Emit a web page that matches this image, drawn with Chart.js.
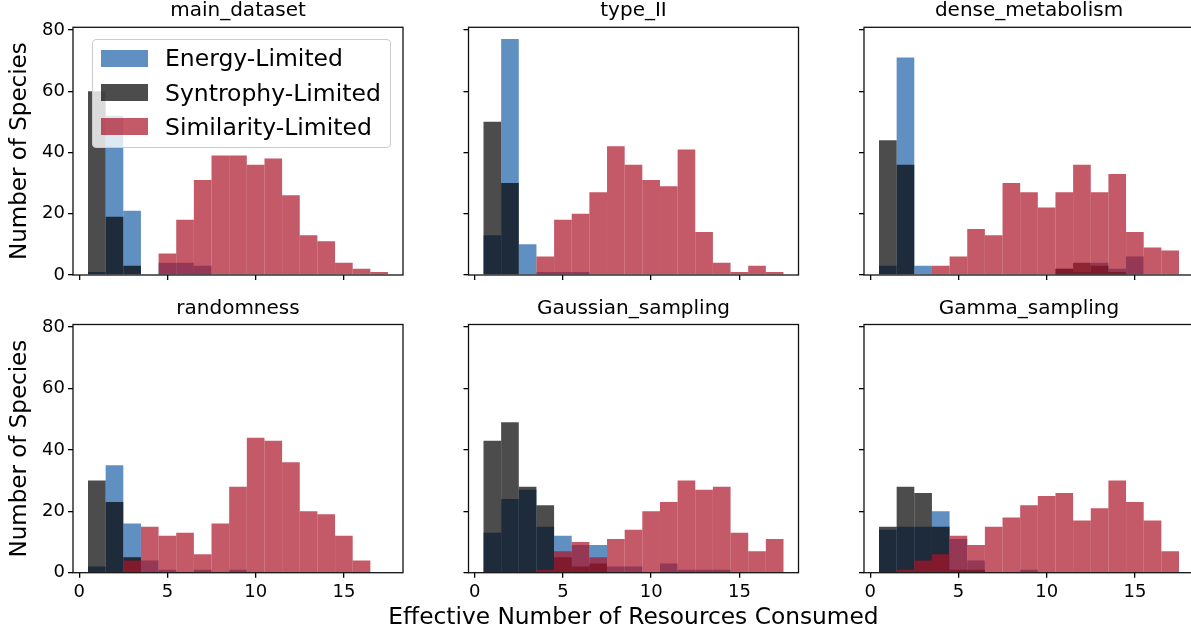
<!DOCTYPE html>
<html>
<head>
<meta charset="utf-8">
<title>Effective Number of Resources Consumed</title>
<script src="https://cdn.jsdelivr.net/npm/chart.js@4.4.1/dist/chart.umd.min.js"></script>
<style>
  html, body { margin: 0; padding: 0; background: #fff; }
  body { width: 1191px; height: 634px; position: relative; overflow: hidden; font-family: 'DejaVu Sans', sans-serif; }
  canvas { position: absolute; }
  #legend { position: absolute; left: 92px; top: 39px; width: 297px; height: 107px; border: 1px solid #cccccc; border-radius: 4px; background: rgba(255, 255, 255, 0.8); z-index: 2; }
  .item { position: absolute; left: 8px; height: 34px; display: flex; align-items: center; font-size: 23.5px; color: #000; white-space: nowrap; }
  .swatch { width: 47px; height: 17px; margin-right: 17px; }
  #xlabel { position: absolute; left: 333.5px; width: 600px; top: 602px; text-align: center; font-size: 23.3px; line-height: 27.6px; color: #000; white-space: nowrap; }
</style>
</head>
<body>
<canvas id="c0" width="406" height="286" style="left:0px;top:-1px"></canvas>
<canvas id="c1" width="342" height="286" style="left:460px;top:-1px"></canvas>
<canvas id="c2" width="342" height="286" style="left:856px;top:-1px"></canvas>
<canvas id="c3" width="406" height="337" style="left:0px;top:297px"></canvas>
<canvas id="c4" width="342" height="337" style="left:460px;top:297px"></canvas>
<canvas id="c5" width="342" height="337" style="left:856px;top:297px"></canvas>
<div id="legend"></div>
<div id="xlabel">Effective Number of Resources Consumed</div>
<script>
// bins are 1 wide, centred on the integers
const binCenters = [1, 2, 3, 4, 5, 6, 7, 8, 9, 10, 11, 12, 13, 14, 15, 16, 17];
const xTickValues = [0, 5, 10, 15];
const yTickValues = [0, 20, 40, 60, 80];
const seriesNames = ['Energy-Limited', 'Syntrophy-Limited', 'Similarity-Limited'];
const panelTitles = ['main_dataset', 'type_II', 'dense_metabolism', 'randomness', 'Gaussian_sampling', 'Gamma_sampling'];

const energyMain       = [1, 52, 21, 0, 4, 4, 3, 0, 0, 0, 0, 0, 0, 0, 0, 0, 0];
const syntrophyMain    = [60, 19, 3, 0, 0, 0, 0, 0, 0, 0, 0, 0, 0, 0, 0, 0, 0];
const similarityMain   = [0, 0, 0, 0, 7, 18, 31, 39, 39, 36, 38, 26, 13, 11, 4, 2, 1];

const energyTypeII     = [13, 77, 10, 1, 1, 1, 0, 0, 0, 0, 0, 0, 0, 0, 0, 0, 0];
const syntrophyTypeII  = [50, 30, 0, 0, 0, 0, 0, 0, 0, 0, 0, 0, 0, 0, 0, 0, 0];
const similarityTypeII = [0, 0, 0, 6, 18, 20, 27, 42, 36, 31, 29, 41, 14, 4, 1, 3, 1];

const energyDense      = [3, 71, 3, 0, 0, 0, 0, 0, 0, 0, 2, 1, 4, 2, 6, 0, 0];
const syntrophyDense   = [44, 36, 0, 0, 0, 0, 0, 0, 0, 0, 2, 4, 3, 1, 0, 0, 0];
const similarityDense  = [0, 0, 0, 3, 6, 15, 13, 30, 27, 22, 27, 36, 27, 33, 14, 9, 8];

const energyRandom     = [2, 35, 16, 4, 1, 0, 1, 0, 1, 0, 0, 0, 0, 0, 0, 0, 0];
const syntrophyRandom  = [30, 23, 5, 0, 0, 0, 0, 0, 0, 0, 0, 0, 0, 0, 0, 0, 0];
const similarityRandom = [0, 0, 4, 15, 12, 13, 6, 16, 28, 44, 43, 36, 20, 19, 12, 4, 0];

const energyGauss      = [13, 24, 27, 15, 12, 9, 9, 2, 2, 0, 3, 1, 1, 1, 0, 0, 0];
const syntrophyGauss   = [43, 49, 28, 22, 5, 2, 3, 0, 0, 0, 0, 0, 0, 0, 0, 0, 0];
const similarityGauss  = [0, 0, 0, 1, 7, 10, 5, 11, 14, 20, 23, 30, 27, 28, 13, 7, 11];

const energyGamma      = [14, 15, 15, 20, 11, 4, 0, 0, 1, 0, 0, 0, 0, 0, 0, 0, 0];
const syntrophyGamma   = [15, 28, 26, 15, 1, 1, 0, 0, 0, 0, 0, 0, 0, 0, 0, 0, 0];
const similarityGamma  = [0, 1, 4, 6, 12, 9, 15, 18, 22, 25, 26, 17, 21, 30, 23, 17, 7];

const energySets     = [energyMain, energyTypeII, energyDense, energyRandom, energyGauss, energyGamma];
const syntrophySets  = [syntrophyMain, syntrophyTypeII, syntrophyDense, syntrophyRandom, syntrophyGauss, syntrophyGamma];
const similaritySets = [similarityMain, similarityTypeII, similarityDense, similarityRandom, similarityGauss, similarityGamma];

const colors = ['rgba(28, 95, 166, 0.7)', 'rgba(0, 0, 0, 0.7)', 'rgba(171, 19, 39, 0.7)'];

// panel geometry (plot area 330 px wide)
const yAxisW = [73, 8.5, 8];
const titlePadBottom = [4.3, 3.5];
const xAxisH = [10, 61.3];
const plotW = 330;

Chart.defaults.font.family = "'DejaVu Sans', sans-serif";
Chart.defaults.color = '#000';

const framePlugin = {
  id: 'frame',
  afterDatasetsDraw(chart) {
    const a = chart.chartArea;
    const ctx = chart.ctx;
    ctx.save();
    ctx.strokeStyle = '#111';
    ctx.lineWidth = 1.3;
    ctx.strokeRect(a.left, a.top, a.right - a.left, a.bottom - a.top);
    ctx.restore();
  }
};

function toPoints(values) {
  return binCenters.map((x, k) => ({ x: x, y: values[k] }));
}

function barSet(idx, values, order) {
  return {
    label: seriesNames[idx],
    data: toPoints(values),
    backgroundColor: colors[idx],
    borderWidth: 0,
    grouped: false,
    barPercentage: 1,
    categoryPercentage: 1,
    inflateAmount: 0,
    order: order
  };
}

// fixed axis boxes, no extra room for label overflow
function noPad(s) {
  s.paddingLeft = 0; s.paddingRight = 0; s.paddingTop = 0; s.paddingBottom = 0;
}

function makePanel(i) {
  const row = Math.floor(i / 3), col = i % 3;
  const canvas = document.getElementById('c' + i);
  const padRight = canvas.width - yAxisW[col] - plotW;
  const gridOpts = { drawOnChartArea: false, drawTicks: true, tickLength: 5, lineWidth: 1.3, color: '#000', offset: false };

  new Chart(canvas, {
    type: 'bar',
    data: {
      datasets: [
        barSet(0, energySets[i], 3),
        barSet(1, syntrophySets[i], 2),
        barSet(2, similaritySets[i], 1)
      ]
    },
    options: {
      responsive: false,
      animation: false,
      layout: { padding: { left: 0, top: 0, right: padRight, bottom: 0 } },
      plugins: {
        legend: { display: false },
        tooltip: { enabled: false },
        title: {
          display: true,
          text: panelTitles[i],
          fullSize: false,
          font: { size: 20, weight: 'normal', lineHeight: 1.2 },
          color: '#000',
          padding: { top: 0, bottom: titlePadBottom[row] }
        }
      },
      scales: {
        x: {
          type: 'linear',
          min: -0.35,
          max: 18.35,
          bounds: 'data',
          offset: false,
          afterBuildTicks: s => { s.ticks = xTickValues.map(v => ({ value: v })); },
          afterFit: s => { s.height = xAxisH[row]; noPad(s); },
          grid: gridOpts,
          border: { display: false },
          ticks: { display: row === 1, font: { size: 18 }, color: '#000', padding: 4, maxRotation: 0, minRotation: 0 }
        },
        y: {
          type: 'linear',
          min: 0,
          max: 80.85,
          bounds: 'data',
          afterBuildTicks: s => { s.ticks = yTickValues.map(v => ({ value: v })); },
          afterFit: s => { s.width = yAxisW[col]; noPad(s); },
          grid: gridOpts,
          border: { display: false },
          ticks: { display: col === 0, font: { size: 18 }, color: '#000', padding: 3 },
          title: {
            display: col === 0,
            text: 'Number of Species',
            font: { size: 23 },
            color: '#000',
            padding: { top: 6, bottom: 0 }
          }
        }
      }
    },
    plugins: [framePlugin]
  });
}

for (let i = 0; i < 6; i++) makePanel(i);

// legend box inside the first panel
const legend = document.getElementById('legend');
seriesNames.forEach((name, k) => {
  const item = document.createElement('div');
  item.className = 'item';
  item.style.top = (1.3 + 34.2 * k) + 'px';
  const sw = document.createElement('span');
  sw.className = 'swatch';
  sw.style.background = colors[k];
  const label = document.createElement('span');
  label.textContent = name;
  item.appendChild(sw);
  item.appendChild(label);
  legend.appendChild(item);
});
</script>
</body>
</html>
